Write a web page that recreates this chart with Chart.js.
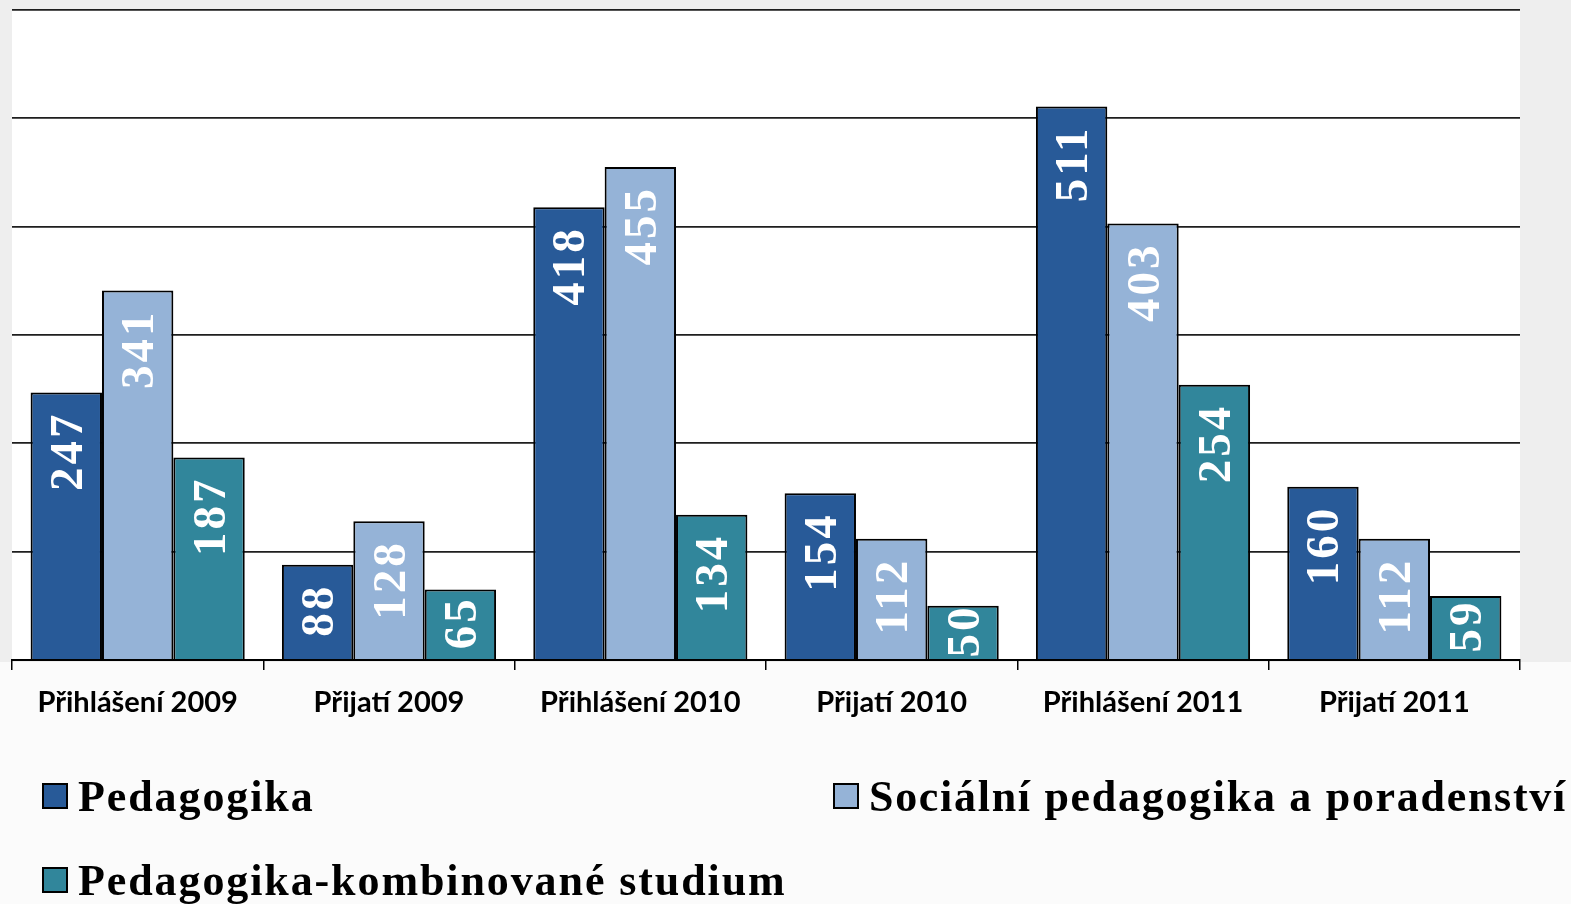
<!DOCTYPE html>
<html>
<head>
<meta charset="utf-8">
<script src="https://cdn.jsdelivr.net/npm/chart.js@4.4.1/dist/chart.umd.min.js"></script>
<style>
  html, body { margin: 0; padding: 0; background: #fbfbfb; }
  #wrap { position: relative; width: 1571px; height: 904px; overflow: hidden; }
  #c { position: absolute; left: 0; top: 0; }
  .lg { position: absolute; display: flex; align-items: center; white-space: nowrap;
        font-family: "Liberation Serif", serif; font-weight: bold; font-size: 44px; color: #000; }
  .lg .box { width: 22px; height: 22px; border: 2px solid #000; margin-right: 10px; flex: none; }
</style>
</head>
<body>
<div id="wrap">
  <canvas id="c" width="1571" height="904"></canvas>
</div>
<script>
const categories = ["Přihlášení 2009", "Přijatí 2009", "Přihlášení 2010", "Přijatí 2010", "Přihlášení 2011", "Přijatí 2011"];
const seriesNames = ["Pedagogika", "Sociální pedagogika a poradenství", "Pedagogika-kombinované studium"];
const pedagogika = [247, 88, 418, 154, 511, 160];
const socialni = [341, 128, 455, 112, 403, 112];
const kombinovane = [187, 65, 134, 50, 254, 59];
const yTicks = [0, 100, 200, 300, 400, 500, 600];
const colors = ["#285a98", "#95b3d7", "#31869b"];

const bgPlugin = {
  id: 'bg',
  beforeDraw(chart) {
    const { ctx, chartArea: a } = chart;
    ctx.save();
    ctx.fillStyle = '#fbfbfb';
    ctx.fillRect(0, 0, chart.width, chart.height);
    ctx.fillStyle = '#eeeeee';
    ctx.fillRect(0, 0, chart.width, a.bottom + 2);
    ctx.fillStyle = '#ffffff';
    ctx.fillRect(a.left, a.top, a.right - a.left, a.bottom - a.top);
    ctx.restore();
  }
};

const labelPlugin = {
  id: 'vlabels',
  afterDatasetsDraw(chart) {
    const ctx = chart.ctx;
    ctx.save();
    ctx.font = 'bold 47px "Liberation Serif"';
    ctx.letterSpacing = '3px';
    ctx.fillStyle = '#ffffff';
    ctx.textBaseline = 'alphabetic';
    const digitH = 47 * 0.66;
    chart.data.datasets.forEach((ds, di) => {
      const meta = chart.getDatasetMeta(di);
      meta.data.forEach((bar, i) => {
        const txt = String(ds.data[i]);
        const w = ctx.measureText(txt).width - 3;
        const len = bar.base - bar.y;
        const pad = 19;
        ctx.save();
        if (len >= w + 2 * pad) {
          ctx.translate(bar.x + digitH / 2, bar.y + pad);
          ctx.rotate(-Math.PI / 2);
          ctx.textAlign = 'right';
          ctx.fillText(txt, 0, 0);
        } else {
          ctx.translate(bar.x + digitH / 2, (bar.y + bar.base) / 2);
          ctx.rotate(-Math.PI / 2);
          ctx.textAlign = 'center';
          ctx.fillText(txt, 1.5, 0);
        }
        ctx.restore();
      });
    });
    ctx.restore();
  }
};

const chart = new Chart(document.getElementById('c'), {
  type: 'bar',
  data: {
    labels: categories,
    datasets: [
      { label: seriesNames[0], data: pedagogika, backgroundColor: colors[0] },
      { label: seriesNames[1], data: socialni, backgroundColor: colors[1] },
      { label: seriesNames[2], data: kombinovane, backgroundColor: colors[2] }
    ].map(d => Object.assign(d, { borderColor: '#000', borderWidth: 2, borderSkipped: 'bottom',
                                   categoryPercentage: 0.852, barPercentage: 1.0 }))
  },
  options: {
    responsive: false,
    animation: false,
    devicePixelRatio: 1,
    layout: { padding: { left: 12, right: 51, top: 10, bottom: 0 } },
    plugins: { legend: { display: false }, tooltip: { enabled: false } },
    scales: {
      x: {
        grid: { drawOnChartArea: false, drawTicks: true, tickLength: 10, color: '#000', lineWidth: 1.5, offset: true },
        border: { display: true, color: '#000', width: 2 },
        ticks: { color: '#000', font: { family: 'Lato', weight: 'bold', size: 29 }, padding: 15, maxRotation: 0 },
        afterFit(scale) { scale.height = 904 - 660; }
      },
      y: {
        min: 0, max: 600,
        afterBuildTicks(scale) { scale.ticks = yTicks.map(v => ({ value: v })); },
        ticks: { display: false },
        grid: { color: '#1e1e1e', lineWidth: 1.8, drawTicks: false },
        border: { display: false },
        afterFit(scale) { scale.width = 0; }
      }
    }
  },
  plugins: [bgPlugin, labelPlugin]
});

// HTML legend built from the chart's datasets
const legendPos = [
  { left: 42, top: 772 },
  { left: 833, top: 772 },
  { left: 42, top: 856 }
];
const legendSpacing = ['1.9px', '1.7px', '1.9px'];
const wrap = document.getElementById('wrap');
chart.data.datasets.forEach((ds, i) => {
  const el = document.createElement('div');
  el.className = 'lg';
  el.style.left = legendPos[i].left + 'px';
  el.style.top = legendPos[i].top + 'px';
  el.style.height = '48px';
  const box = document.createElement('span');
  box.className = 'box';
  box.style.background = ds.backgroundColor;
  const t = document.createElement('span');
  t.textContent = ds.label;
  t.style.letterSpacing = legendSpacing[i];
  el.appendChild(box); el.appendChild(t);
  wrap.appendChild(el);
});
</script>
</body>
</html>
